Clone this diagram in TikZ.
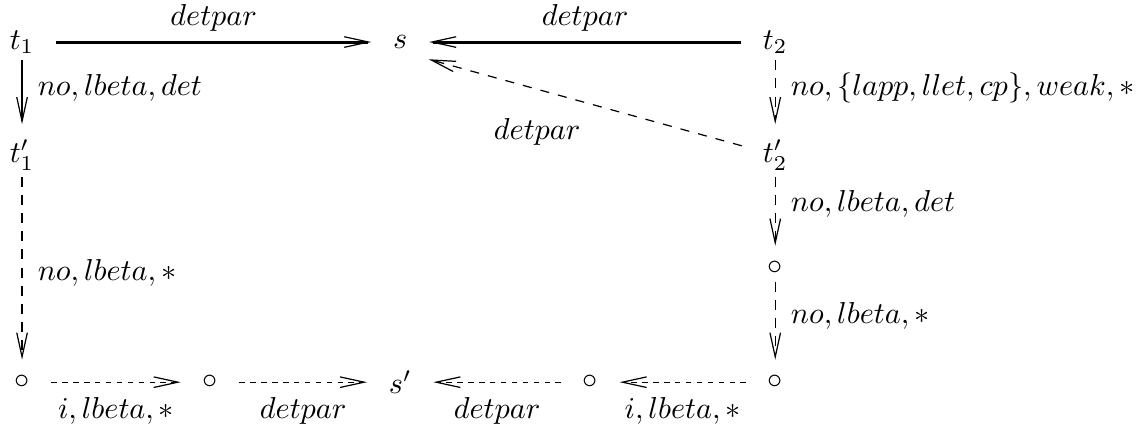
\documentclass[tikz,border=0pt]{standalone}
\usepackage{amsmath}
\usepackage{tikz}
\usetikzlibrary{arrows.meta}

\begin{document}
\begin{tikzpicture}[
    term/.style={inner sep=2pt},
    arrow/.style={-{Straight Barb[length=8pt,width=3.5pt,line width=0.4pt]}},
    detstep/.style={arrow, line width=1pt, shorten <=5pt, shorten >=5pt},
    reduc/.style={arrow, dash pattern=on 3.3pt off 2.7pt, shorten >=3pt},
    perm/.style={arrow, dash pattern=on 1.8pt off 1.8pt, shorten <=5pt, shorten >=5pt},
    lab/.style={inner sep=3pt}
]
\useasboundingbox (0,0) rectangle (13.2,-4.97);
% top row
\node[term] (t1) at (0.256,-0.488) {$t_1$};
\node[term] (s) at (4.646,-0.488) {$s$};
\node[term] (t2) at (9.0,-0.488) {$t_2$};
% middle rows
\node[term] (t1p) at (0.256,-1.80) {$t'_1$};
\node[term] (t2p) at (9.0,-1.80) {$t'_2$};
\node[term] (c3) at (9.0,-3.113) {$\circ$};
% bottom row
\node[term] (b1) at (0.256,-4.437) {$\circ$};
\node[term] (b2) at (2.439,-4.437) {$\circ$};
\node[term] (sp) at (4.646,-4.437) {$s'$};
\node[term] (b4) at (6.852,-4.437) {$\circ$};
\node[term] (b5) at (9.0,-4.437) {$\circ$};

\draw[detstep] (t1) -- node[lab, above=0pt] {$detpar$} (s);
\draw[detstep] (t2) -- node[lab, above=0pt] {$detpar$} (s);
\draw[arrow, dashed, shorten <=5pt, shorten >=5pt] (t2p) -- node[pos=0.64, below=6pt] {$detpar$} (s.south east);

\draw[arrow, shorten >=3pt] (t1) -- node[lab, right=2pt, yshift=3pt] {$no,lbeta,det$} (t1p);
\draw[reduc] (t1p) -- node[lab, right=2pt] {$no,lbeta,*$} (b1);
\draw[reduc] (t2) -- node[lab, right=2pt, yshift=3pt] {$no,\{lapp,llet,cp\},weak,*$} (t2p);
\draw[reduc] (t2p) -- node[lab, right=2pt, yshift=4pt] {$no,lbeta,det$} (c3);
\draw[reduc] (c3) -- node[lab, right=2pt, yshift=3pt] {$no,lbeta,*$} (b5);

\draw[perm] (b1) -- node[lab, below=2pt] {$i,lbeta,*$} (b2);
\draw[perm] (b2) -- node[lab, below=2pt] {$detpar$} (sp);
\draw[perm] (b4) -- node[lab, below=2pt] {$detpar$} (sp);
\draw[perm] (b5) -- node[lab, below=2pt] {$i,lbeta,*$} (b4);
\end{tikzpicture}
\end{document}
